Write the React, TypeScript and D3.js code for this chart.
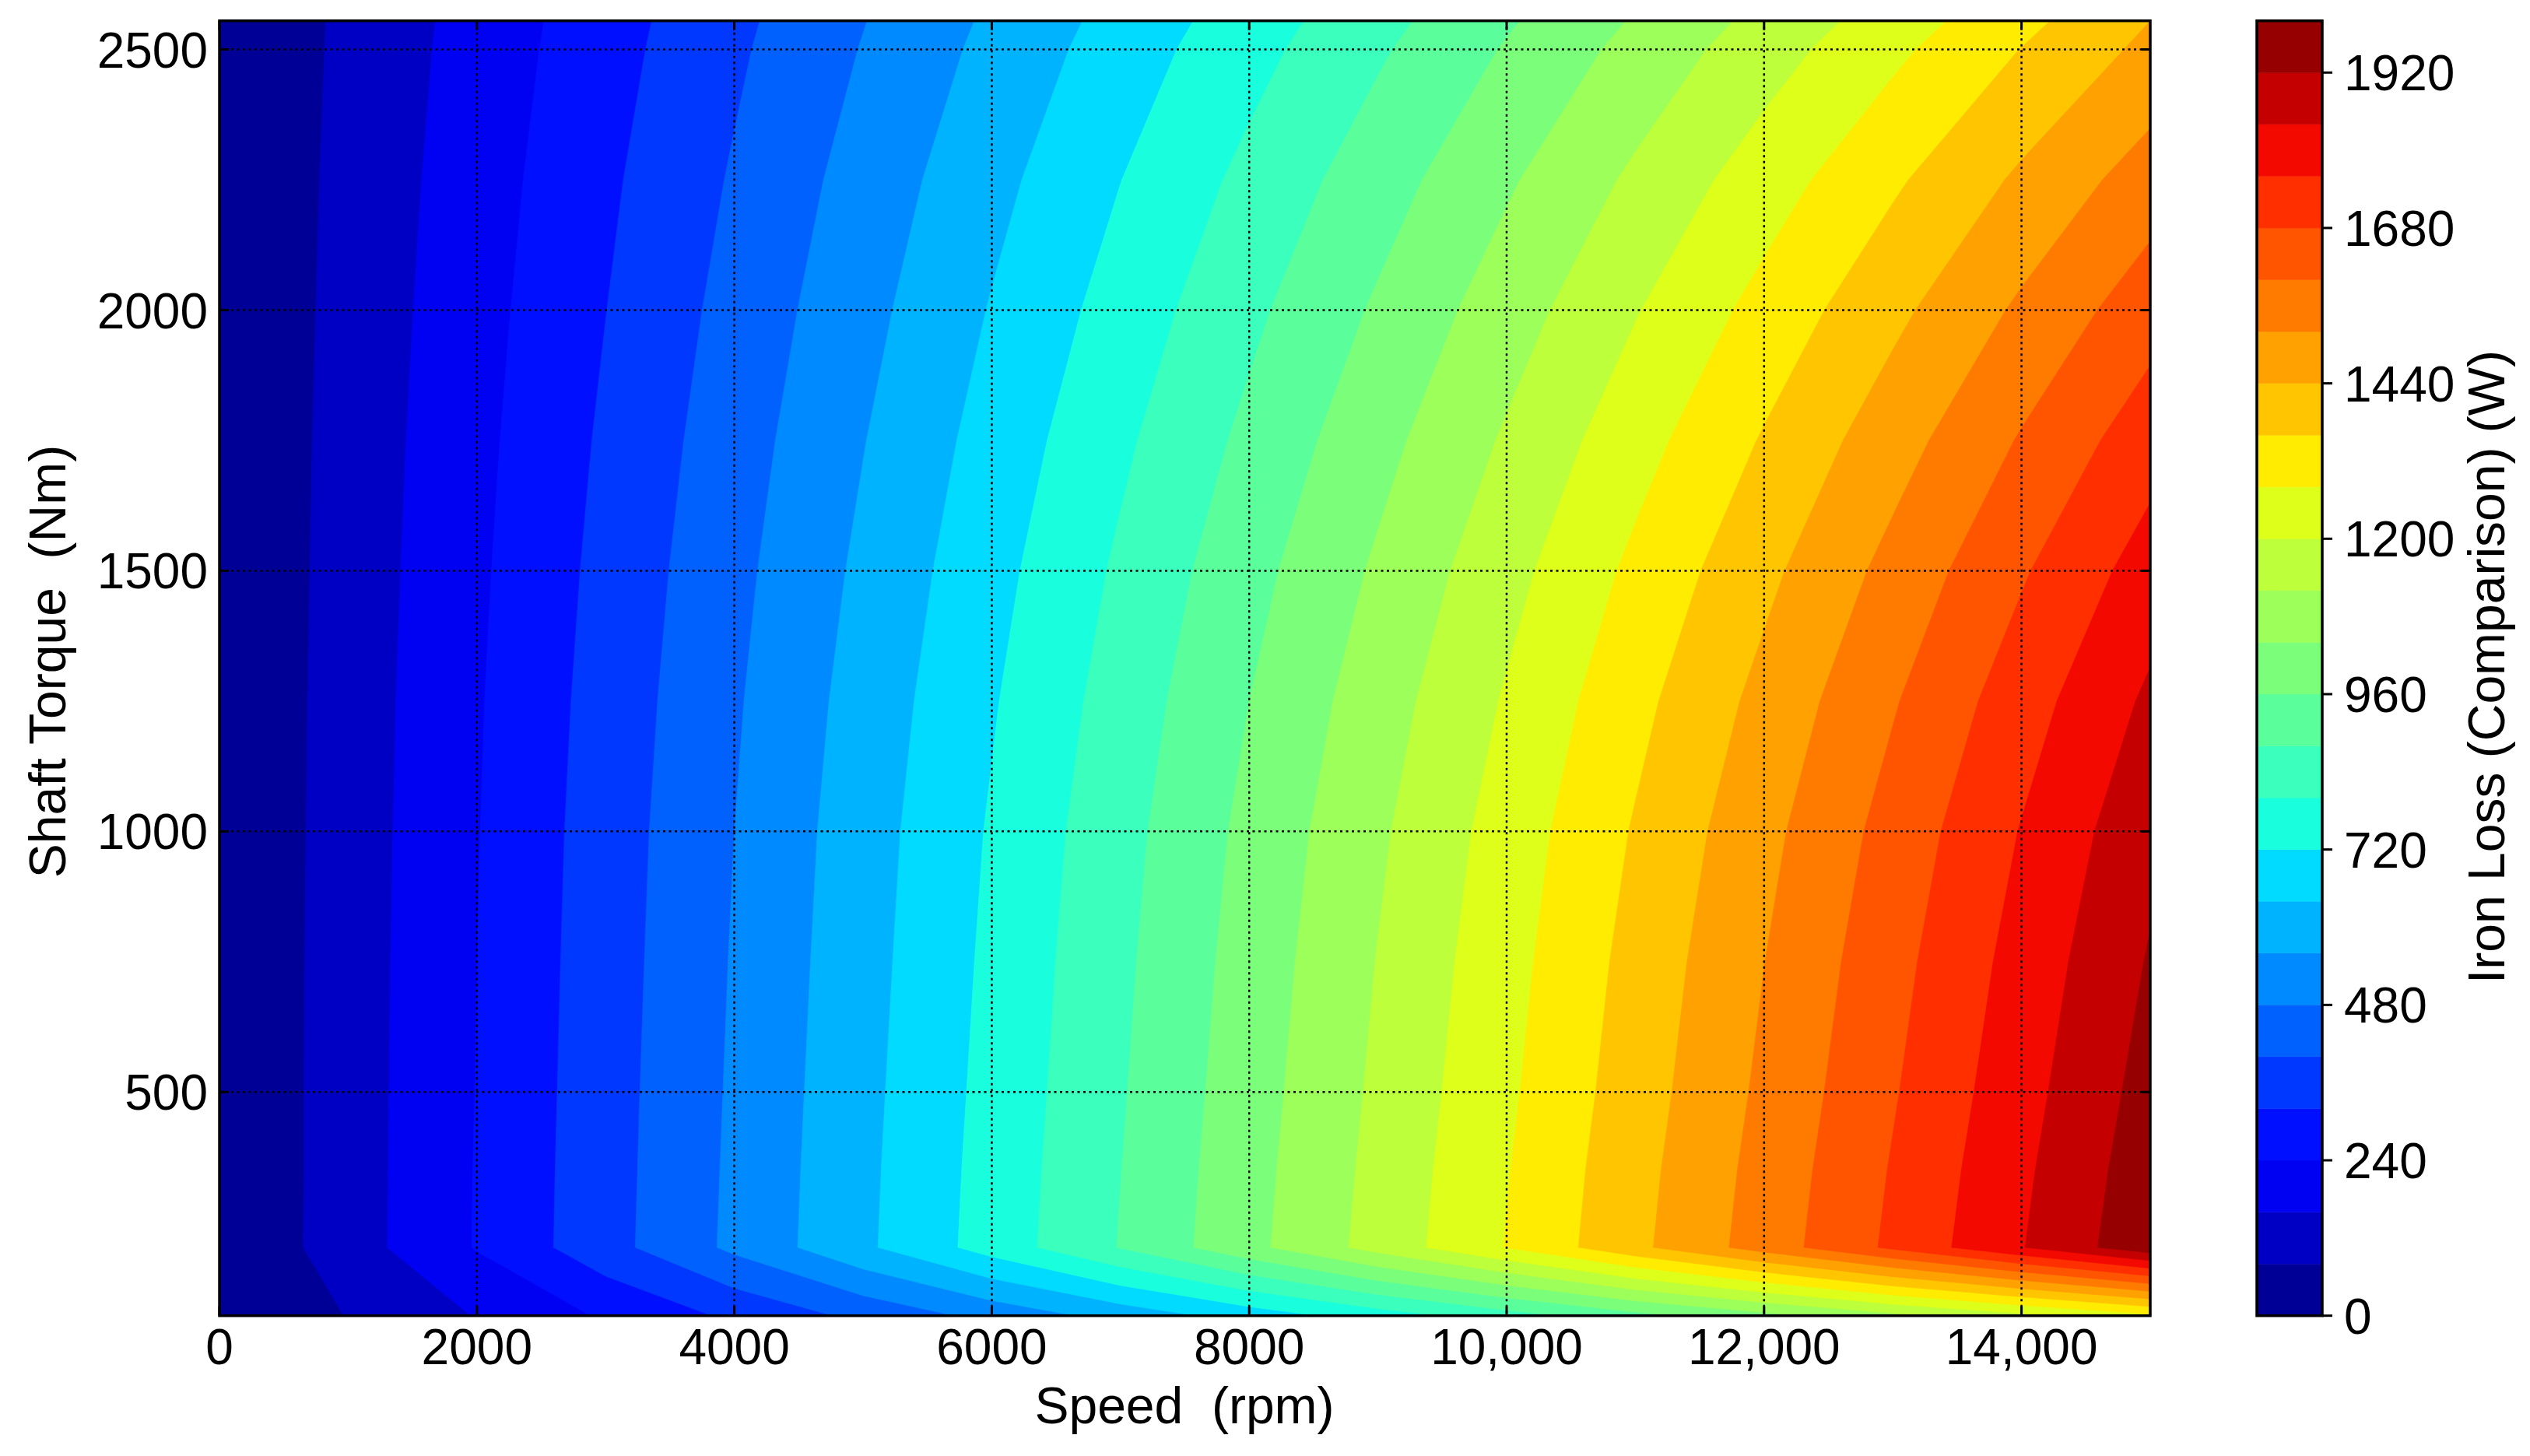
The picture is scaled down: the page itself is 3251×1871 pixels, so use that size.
import React, { useMemo } from 'react';
import * as d3 from 'd3';

// ---- data ----
const speeds = [0, 1000, 2000, 3000, 4000, 5000, 6000, 7000, 8000, 9000, 10000, 11000, 12000, 13000, 14000, 15000];
const torques = [71, 202, 350, 500, 750, 1000, 1250, 1500, 1750, 2000, 2250, 2500, 2555];
const lossT71 = [0, 83, 164, 250, 335, 420, 505, 590, 675, 760, 845, 935, 1015, 1100, 1180, 1265];
const lossT202 = [0, 123, 245, 371, 497, 625, 754, 884, 1018, 1150, 1283, 1421, 1557, 1696, 1836, 1978];
const lossT350 = [0, 122, 244, 369, 494, 622, 750, 879, 1012, 1143, 1276, 1413, 1548, 1686, 1825, 1966];
const lossT500 = [0, 122, 242, 367, 491, 618, 745, 873, 1005, 1135, 1266, 1402, 1536, 1673, 1811, 1951];
const lossT750 = [0, 121, 240, 363, 486, 611, 737, 864, 994, 1123, 1252, 1387, 1519, 1654, 1790, 1927];
const lossT1000 = [0, 119, 237, 359, 480, 604, 728, 853, 981, 1107, 1235, 1367, 1497, 1630, 1764, 1898];
const lossT1250 = [0, 117, 233, 352, 471, 592, 713, 835, 960, 1083, 1208, 1337, 1464, 1593, 1724, 1855];
const lossT1500 = [0, 114, 227, 343, 459, 576, 694, 813, 933, 1052, 1173, 1298, 1420, 1545, 1671, 1797];
const lossT1750 = [0, 111, 220, 332, 444, 557, 671, 785, 899, 1014, 1130, 1249, 1367, 1486, 1607, 1726];
const lossT2000 = [0, 107, 212, 319, 427, 535, 645, 753, 862, 971, 1082, 1195, 1307, 1420, 1534, 1646];
const lossT2250 = [0, 103, 203, 306, 408, 512, 616, 719, 821, 924, 1029, 1135, 1241, 1347, 1454, 1559];
const lossT2500 = [0, 98, 193, 290, 387, 484, 582, 679, 773, 869, 967, 1066, 1164, 1262, 1362, 1460];
const lossT2555 = [0, 97, 190, 286, 381, 477, 573, 668, 760, 854, 950, 1047, 1143, 1239, 1337, 1440];
const lossRows = [lossT71, lossT202, lossT350, lossT500, lossT750, lossT1000, lossT1250, lossT1500,
  lossT1750, lossT2000, lossT2250, lossT2500, lossT2555];

const levels = [0, 80, 160, 240, 320, 400, 480, 560, 640, 720, 800, 880, 960, 1040, 1120, 1200, 1280, 1360, 1440, 1520, 1600, 1680, 1760, 1840, 1920, 2000];
const xTicks = [0, 2000, 4000, 6000, 8000, 10000, 12000, 14000];
const xTickLabels = ['0', '2000', '4000', '6000', '8000', '10,000', '12,000', '14,000'];
const yTicks = [500, 1000, 1500, 2000, 2500];
const yTickLabels = ['500', '1000', '1500', '2000', '2500'];
const cbTicks = [0, 240, 480, 720, 960, 1200, 1440, 1680, 1920];
const cbTickLabels = ['0', '240', '480', '720', '960', '1200', '1440', '1680', '1920'];

const xTitle = 'Speed  (rpm)';
const yTitle = 'Shaft Torque  (Nm)';
const cbTitle = 'Iron Loss (Comparison) (W)';

// ---- jet colormap (matplotlib segment data) ----
const R: number[][] = [[0, 0], [0.35, 0], [0.66, 1], [0.89, 1], [1, 0.5]];
const G: number[][] = [[0, 0], [0.125, 0], [0.375, 1], [0.64, 1], [0.91, 0], [1, 0]];
const B: number[][] = [[0, 0.5], [0.11, 1], [0.34, 1], [0.65, 0], [1, 0]];
function seg(t: number, pts: number[][]) {
  for (let i = 1; i < pts.length; i++) {
    if (t <= pts[i][0]) {
      const [x0, y0] = pts[i - 1];
      const [x1, y1] = pts[i];
      return y0 + ((t - x0) / (x1 - x0)) * (y1 - y0);
    }
  }
  return pts[pts.length - 1][1];
}
function jet(t: number) {
  const r = Math.round(seg(t, R) * 255);
  const g = Math.round(seg(t, G) * 255);
  const b = Math.round(seg(t, B) * 255);
  return `rgb(${r},${g},${b})`;
}

const FONT = '"Liberation Sans", Arial, Helvetica, sans-serif';
const FS = 64;
const FT = 66;

export default function App() {
  const W = 3251, H = 1871;
  const left = 282, right = 2763, top = 26.7, bottom = 1690.7;
  const cbL = 2900, cbR = 2984;

  const x = d3.scaleLinear().domain([0, 15000]).range([left, right]);
  const y = d3.scaleLinear().domain([71, 2555]).range([bottom, top]);
  const cy = d3.scaleLinear().domain([0, 2000]).range([bottom, top]);

  const nBands = levels.length - 1;
  const color = (i: number) => jet((i + 0.5) / nBands);

  const paths = useMemo(() => {
    const nx = speeds.length, ny = torques.length;
    const values: number[] = [];
    for (let j = 0; j < ny; j++) for (let i = 0; i < nx; i++) values.push(lossRows[j][i]);
    const thresholds = levels.slice(0, -1);
    const cs = d3.contours().size([nx, ny]).thresholds(thresholds)(values);
    const ix = d3.scaleLinear().domain(d3.range(nx)).range(speeds).clamp(true);
    const iy = d3.scaleLinear().domain(d3.range(ny)).range(torques).clamp(true);
    const tr = d3.geoTransform({
      point(px: number, py: number) {
        // @ts-ignore
        this.stream.point(x(ix(px - 0.5)), y(iy(py - 0.5)));
      },
    });
    const gp = d3.geoPath(tr);
    return cs.map((c, i) => ({ d: gp(c as any) || '', fill: color(i) }));
  }, []);

  const tickLen = 12;
  const gridStyle = { stroke: '#000', strokeWidth: 2.5, strokeDasharray: '3 4.5' };

  return (
    <svg width={W} height={H} style={{ position: 'absolute', left: 0, top: 0, background: '#fff' }}
      fontFamily={FONT}>
      <rect x={0} y={0} width={W} height={H} fill="#fff" />
      <defs>
        <clipPath id="plotclip">
          <rect x={left} y={top} width={right - left} height={bottom - top} />
        </clipPath>
      </defs>
      <g clipPath="url(#plotclip)">
        <rect x={left} y={top} width={right - left} height={bottom - top} fill={color(0)} />
        {paths.map((p, i) => (
          <path key={i} d={p.d} fill={p.fill} stroke={p.fill} strokeWidth={0.6} />
        ))}
      </g>
      {/* grid */}
      <g>
        {xTicks.filter(v => v > 0).map(v => (
          <line key={'gx' + v} x1={x(v)} x2={x(v)} y1={top} y2={bottom} {...gridStyle} />
        ))}
        {yTicks.map(v => (
          <line key={'gy' + v} x1={left} x2={right} y1={y(v)} y2={y(v)} {...gridStyle} />
        ))}
      </g>
      {/* ticks */}
      <g stroke="#000" strokeWidth={3}>
        {xTicks.map(v => (
          <g key={'tx' + v}>
            <line x1={x(v)} x2={x(v)} y1={bottom} y2={bottom - tickLen} />
            <line x1={x(v)} x2={x(v)} y1={top} y2={top + tickLen} />
          </g>
        ))}
        {yTicks.map(v => (
          <g key={'ty' + v}>
            <line x1={left} x2={left + tickLen} y1={y(v)} y2={y(v)} />
            <line x1={right} x2={right - tickLen} y1={y(v)} y2={y(v)} />
          </g>
        ))}
      </g>
      <rect x={left} y={top} width={right - left} height={bottom - top} fill="none" stroke="#000" strokeWidth={3.5} />
      {/* tick labels */}
      <g fontSize={FS} fill="#000">
        {xTicks.map((v, i) => (
          <text key={'lx' + v} x={x(v)} y={1753} textAnchor="middle">{xTickLabels[i]}</text>
        ))}
        {yTicks.map((v, i) => (
          <text key={'ly' + v} x={267} y={y(v)} dy="0.36em" textAnchor="end">{yTickLabels[i]}</text>
        ))}
      </g>
      {/* axis titles */}
      <text x={1522} y={1829} fontSize={FT} textAnchor="middle" xmlSpace="preserve" style={{ whiteSpace: 'pre' }}>{xTitle}</text>
      <text transform={`translate(84,850) rotate(-90)`} fontSize={FT} textAnchor="middle" xmlSpace="preserve" style={{ whiteSpace: 'pre' }}>{yTitle}</text>

      {/* colorbar */}
      <g>
        {levels.slice(0, -1).map((lv, i) => (
          <rect key={'cb' + lv} x={cbL} width={cbR - cbL} y={cy(levels[i + 1])} height={cy(lv) - cy(levels[i + 1])}
            fill={color(i)} stroke={color(i)} strokeWidth={0.5} />
        ))}
        <rect x={cbL} y={top} width={cbR - cbL} height={bottom - top} fill="none" stroke="#000" strokeWidth={3.5} />
        <g stroke="#000" strokeWidth={3}>
          {cbTicks.map(v => (
            <line key={'ct' + v} x1={cbR} x2={cbR + 13} y1={cy(v)} y2={cy(v)} />
          ))}
        </g>
        <g fontSize={FS} fill="#000">
          {cbTicks.map((v, i) => (
            <text key={'cl' + v} x={3012} y={cy(v)} dy="0.36em" textAnchor="start">{cbTickLabels[i]}</text>
          ))}
        </g>
        <text transform={`translate(3218,857) rotate(-90)`} fontSize={FT} textAnchor="middle">{cbTitle}</text>
      </g>
    </svg>
  );
}
